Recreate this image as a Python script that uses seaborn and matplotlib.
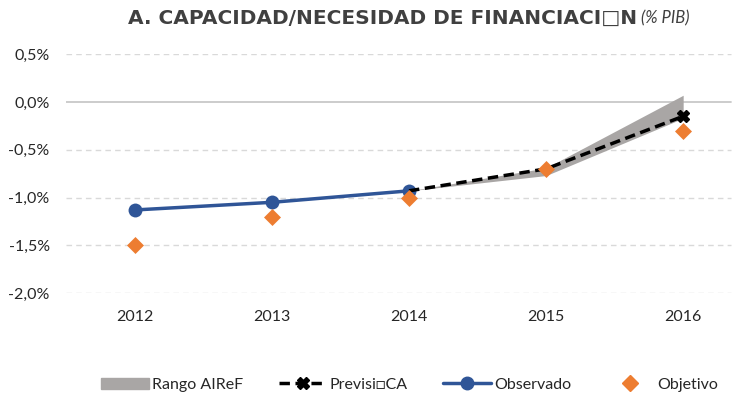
import matplotlib.pyplot as plt
import seaborn as sns
import pandas as pd
from matplotlib.lines import Line2D
from matplotlib.patches import Patch

years = ['2012', '2013', '2014', '2015', '2016']
observado = [-1.13, -1.05, -0.93, None, None]
prevision = [None, None, -0.93, -0.70, -0.15]
rango_low = [None, None, -0.93, -0.77, -0.17]
rango_high = [None, None, -0.93, -0.69, 0.07]
objetivo = [-1.5, -1.2, -1.0, -0.7, -0.3]

sns.set_theme(style='white')
plt.rcParams['font.family'] = ['Lato', 'DejaVu Sans']

df = pd.DataFrame({'x': range(len(years)), 'obs': observado, 'prev': prevision,
                   'lo': rango_low, 'hi': rango_high, 'obj': objetivo})

fig = plt.figure(figsize=(7.45, 4.01), dpi=100)
ax = fig.add_axes([0.089, 0.269, 0.92, 0.596])

for v in [0.5, -0.5, -1.0, -1.5, -2.0]:
    ax.axhline(v, xmax=0.97, color='#d9d9d9', lw=1, ls=(0, (4, 3)), zorder=0)
ax.axhline(0, xmax=0.97, color='#c8c8c8', lw=1.3, zorder=0)

r = df.dropna(subset=['lo'])
ax.fill_between(r['x'], r['lo'], r['hi'], color='#a9a6a5', lw=0, zorder=1)

o = df.dropna(subset=['obs'])
sns.lineplot(data=o, x='x', y='obs', ax=ax, color='#2f5597', lw=2.5,
             marker='o', markersize=10, markeredgewidth=0, zorder=3)
p = df.dropna(subset=['prev'])
sns.lineplot(data=p, x='x', y='prev', ax=ax, color='black', lw=2.5,
             ls=(0, (3, 1.6)), zorder=4)
ax.plot(p['x'].iloc[-1:], p['prev'].iloc[-1:], marker='X', color='black',
        markersize=9, ls='none', zorder=4)
sns.scatterplot(data=df, x='x', y='obj', ax=ax, color='#ed7d31', marker='D',
                s=75, linewidth=0, zorder=5)

ax.set_xlim(-0.5, 4.5)
ax.set_ylim(-2.0, 0.5)
ax.set_xticks(range(len(years)))
ax.set_xticklabels(years)
ticks = [0.5, 0.0, -0.5, -1.0, -1.5, -2.0]
ax.set_yticks(ticks)
ax.set_yticklabels([f'{t:.1f}%'.replace('.', ',') for t in ticks])
ax.tick_params(axis='both', labelsize=11.5, colors='#262626', length=0)
ax.tick_params(axis='x', pad=12)
ax.tick_params(axis='y', pad=12)
ax.set_xlabel('')
ax.set_ylabel('')
for s in ax.spines.values():
    s.set_visible(False)

fig.text(0.855, 0.955, 'A. CAPACIDAD/NECESIDAD DE FINANCIACI\u25a1N', ha='right',
         va='center', fontsize=14.5, fontweight='bold', color='#404040',
         family=['DejaVu Sans'])
fig.text(0.86, 0.955, '(% PIB)', ha='left', va='center', fontsize=12,
         style='italic', color='#404040')

handles = [Patch(color='#a9a6a5'),
           Line2D([], [], color='black', lw=2.5, ls=(0, (3, 1.6)), marker='X', markersize=8),
           Line2D([], [], color='#2f5597', lw=2.5, marker='o', markersize=9),
           Line2D([], [], color='#ed7d31', lw=0, marker='D', markersize=8)]
labels = ['Rango AIReF', 'Previsi\u25a1CA', 'Observado', 'Objetivo']
fig.legend(handles, labels, loc='center', bbox_to_anchor=(0.55, 0.04), ncol=4,
           frameon=False, fontsize=11.5, handlelength=3.0, handletextpad=0.2,
           columnspacing=2.2)

fig.savefig('out.png', dpi=100)
